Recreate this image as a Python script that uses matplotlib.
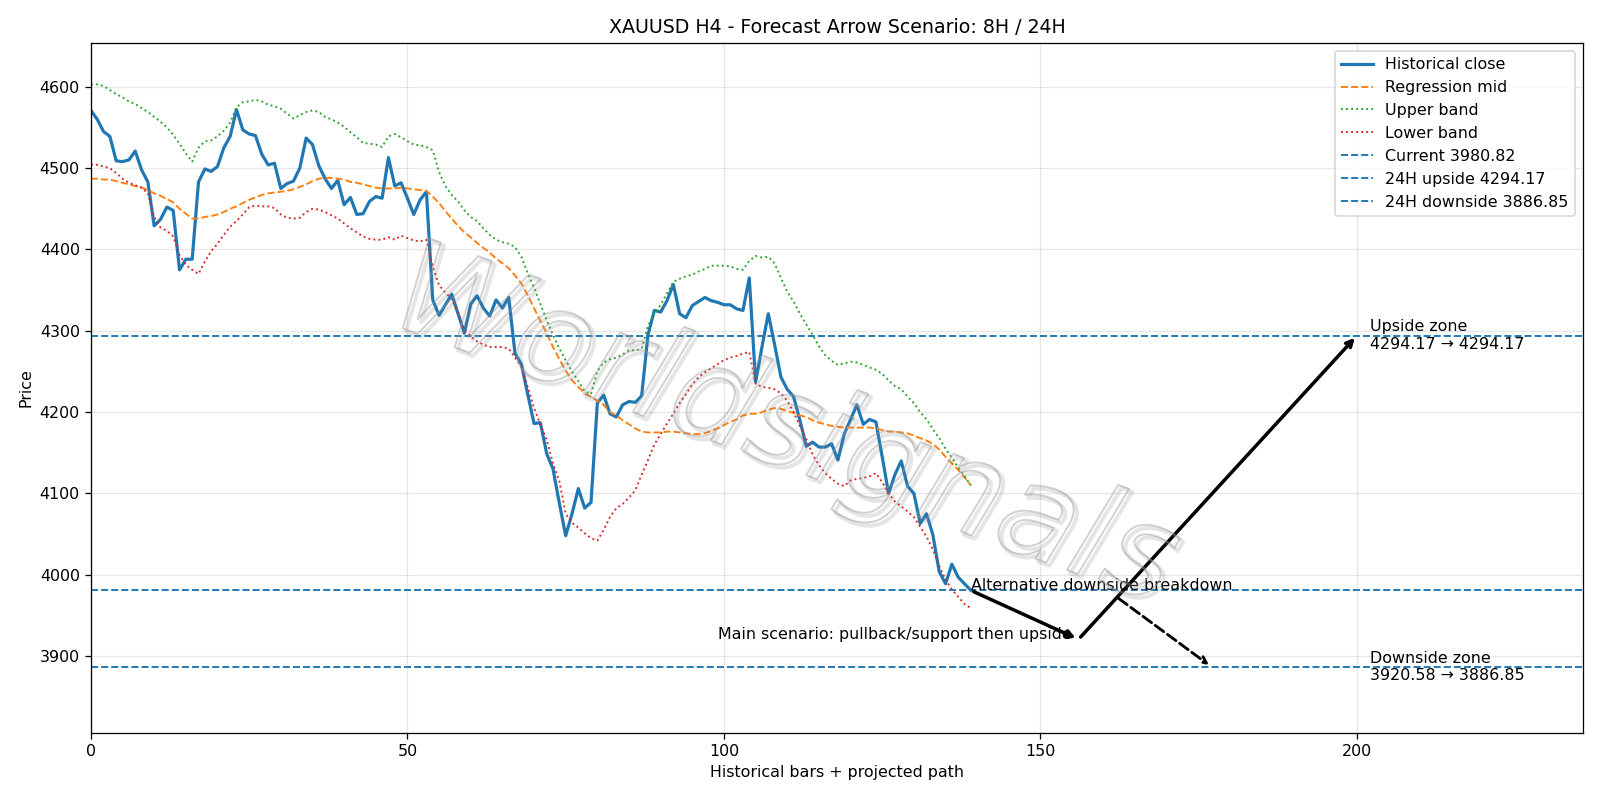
import numpy as np
import matplotlib
matplotlib.use("Agg")
import matplotlib.pyplot as plt
import matplotlib.patheffects as pe

# valori (barre H4)
close = [4571, 4560, 4545, 4539, 4509, 4508, 4510, 4521, 4498, 4483,
         4429, 4437, 4452, 4448, 4375, 4388, 4388, 4483, 4499, 4496,
         4502, 4525, 4539, 4572, 4547, 4542, 4540, 4517, 4504, 4506,
         4475, 4481, 4484, 4500, 4537, 4529, 4503, 4487, 4475, 4485,
         4455, 4464, 4443, 4444, 4459, 4465, 4463, 4513, 4478, 4482,
         4463, 4443, 4461, 4471, 4338, 4319, 4332, 4345, 4321, 4297,
         4333, 4343, 4328, 4318, 4338, 4328, 4341, 4272, 4259, 4222,
         4186, 4187, 4149, 4130, 4088, 4048, 4075, 4106, 4082, 4089,
         4211, 4221, 4198, 4194, 4209, 4213, 4212, 4220, 4295, 4325,
         4323, 4337, 4357, 4321, 4316, 4331, 4336, 4341, 4337, 4335,
         4332, 4332, 4327, 4325, 4365, 4237, 4280, 4321, 4283, 4243,
         4228, 4219, 4190, 4158, 4163, 4157, 4157, 4161, 4141, 4173,
         4191, 4209, 4185, 4191, 4188, 4145, 4100, 4123, 4140, 4109,
         4100, 4063, 4075, 4049, 4004, 3989, 4013, 3997, 3989, 3980.82]

mid = [4487, 4487, 4486, 4486, 4484, 4482, 4480, 4478, 4476, 4473,
       4469, 4466, 4462, 4458, 4450, 4444, 4438, 4438, 4440, 4441,
       4443, 4446, 4450, 4453, 4457, 4461, 4464, 4467, 4469, 4470,
       4471, 4472, 4474, 4477, 4480, 4484, 4487, 4488, 4488, 4487,
       4486, 4483, 4482, 4480, 4478, 4476, 4475, 4475, 4475, 4476,
       4475, 4474, 4473, 4472, 4465, 4457, 4447, 4438, 4429, 4421,
       4415, 4408, 4402, 4396, 4389, 4383, 4377, 4368, 4358, 4344,
       4328, 4312, 4297, 4280, 4265, 4251, 4239, 4231, 4223, 4219,
       4214, 4209, 4200, 4196, 4190, 4185, 4180, 4176, 4175, 4175,
       4175, 4176, 4176, 4175, 4174, 4173, 4173, 4174, 4177, 4180,
       4184, 4188, 4191, 4196, 4198, 4198, 4200, 4203, 4205, 4204,
       4201, 4199, 4196, 4194, 4190, 4187, 4185, 4183, 4182, 4181,
       4181, 4181, 4181, 4181, 4180, 4178, 4176, 4176, 4175, 4174,
       4171, 4168, 4165, 4161, 4154, 4145, 4137, 4129, 4120, 4110]

upper = [4603, 4603, 4601, 4596, 4591, 4587, 4582, 4579, 4574, 4569,
         4563, 4557, 4550, 4541, 4530, 4518, 4508, 4525, 4533, 4534,
         4539, 4546, 4556, 4575, 4581, 4582, 4584, 4582, 4578, 4576,
         4573, 4567, 4561, 4565, 4569, 4571, 4569, 4563, 4560, 4556,
         4551, 4544, 4538, 4531, 4530, 4529, 4526, 4539, 4542, 4538,
         4533, 4529, 4528, 4526, 4522, 4495, 4478, 4467, 4459, 4448,
         4440, 4435, 4426, 4418, 4412, 4409, 4407, 4403, 4391, 4371,
         4353, 4333, 4313, 4295, 4278, 4264, 4250, 4238, 4226, 4222,
         4250, 4261, 4265, 4267, 4271, 4276, 4276, 4278, 4306, 4321,
         4332, 4346, 4360, 4364, 4367, 4369, 4373, 4376, 4380, 4380,
         4380, 4379, 4376, 4375, 4386, 4392, 4390, 4391, 4383, 4365,
         4348, 4336, 4321, 4308, 4295, 4281, 4270, 4263, 4258, 4260,
         4262, 4261, 4258, 4255, 4252, 4247, 4239, 4232, 4228, 4219,
         4211, 4200, 4191, 4179, 4168, 4155, 4144, 4132, 4121, 4110]

lower = [4504, 4504, 4502, 4500, 4494, 4487, 4482, 4479, 4476, 4469,
         4440, 4427, 4423, 4416, 4393, 4381, 4375, 4370, 4385, 4398,
         4407, 4418, 4428, 4435, 4443, 4452, 4454, 4453, 4453, 4451,
         4443, 4439, 4438, 4439, 4446, 4450, 4449, 4446, 4442, 4438,
         4432, 4426, 4421, 4416, 4413, 4412, 4412, 4415, 4412, 4417,
         4414, 4411, 4410, 4412, 4379, 4356, 4347, 4339, 4322, 4301,
         4293, 4287, 4283, 4280, 4280, 4280, 4278, 4267, 4256, 4231,
         4205, 4185, 4166, 4137, 4115, 4075, 4064, 4058, 4051, 4045,
         4042, 4055, 4071, 4082, 4087, 4095, 4104, 4123, 4141, 4160,
         4173, 4186, 4198, 4211, 4222, 4234, 4243, 4249, 4254, 4259,
         4264, 4267, 4269, 4272, 4274, 4235, 4231, 4230, 4228, 4223,
         4214, 4200, 4183, 4167, 4148, 4135, 4125, 4118, 4112, 4109,
         4116, 4118, 4119, 4121, 4125, 4114, 4100, 4090, 4084, 4078,
         4071, 4059, 4047, 4031, 4011, 3994, 3982, 3973, 3964, 3959]

current = 3980.82
up_24h = 4294.17
down_24h = 3886.85
pullback = 3920.58

# percorso proiettato (x, prezzo)
main_x = [139, 156, 200]
main_y = [current, pullback, up_24h]
alt_x = [139, 177]
alt_y = [current, down_24h]

x = np.arange(len(close))

fig, ax = plt.subplots(figsize=(14, 7), dpi=800/7)
fig.subplots_adjust(left=0.0568, right=0.9894, top=0.9464, bottom=0.0843)

ax.plot(x, close, color="C0", lw=2, label="Historical close")
ax.plot(x, mid, color="C1", ls="--", lw=1.2, label="Regression mid")
ax.plot(x, upper, color="C2", ls=":", lw=1.2, label="Upper band")
ax.plot(x, lower, color="C3", ls=":", lw=1.2, label="Lower band")
ax.axhline(current, color="C0", ls="--", lw=1.2, label=f"Current {current:.2f}")
ax.axhline(up_24h, color="C0", ls="--", lw=1.2, label=f"24H upside {up_24h:.2f}")
ax.axhline(down_24h, color="C0", ls="--", lw=1.2, label=f"24H downside {down_24h:.2f}")

# frecce scenario
ax.annotate("", xy=(main_x[1], main_y[1]), xytext=(main_x[0], main_y[0]),
            arrowprops=dict(arrowstyle="-|>", color="black", lw=2.2))
ax.annotate("", xy=(main_x[2], main_y[2]), xytext=(main_x[1], main_y[1]),
            arrowprops=dict(arrowstyle="->", color="black", lw=2.2))
ax.annotate("Alternative downside breakdown", xy=(alt_x[1], alt_y[1]),
            xytext=(alt_x[0], alt_y[0]),
            arrowprops=dict(arrowstyle="->", color="black", lw=1.8, linestyle="--"))
ax.text(main_x[1] - 1, main_y[1], "Main scenario: pullback/support then upside",
        ha="right", va="baseline")
ax.text(202, up_24h, f"Upside zone\n{up_24h:.2f} \u2192 {up_24h:.2f}", va="center")
ax.text(202, down_24h, f"Downside zone\n{pullback:.2f} \u2192 {down_24h:.2f}", va="center")

# watermark
ax.text(0.465, 0.44, "Worldsignals", transform=ax.transAxes, fontsize=81,
        rotation=-20, ha="center", va="center", color=(1, 1, 1, 0),
        style="italic", fontweight="light",
        path_effects=[pe.Stroke(linewidth=2.5, foreground=(0.5, 0.5, 0.5, 0.2), offset=(2, -2)),
                      pe.Stroke(linewidth=1.2, foreground=(0.6, 0.6, 0.6, 0.45))])

ax.set_xlim(0, 235.7)
ax.set_ylim(3806, 4654)
ax.set_title("XAUUSD H4 - Forecast Arrow Scenario: 8H / 24H")
ax.set_xlabel("Historical bars + projected path")
ax.set_ylabel("Price")
ax.grid(True, alpha=0.3)
ax.legend(loc="upper right")

fig.savefig("out.png", dpi=800/7)
